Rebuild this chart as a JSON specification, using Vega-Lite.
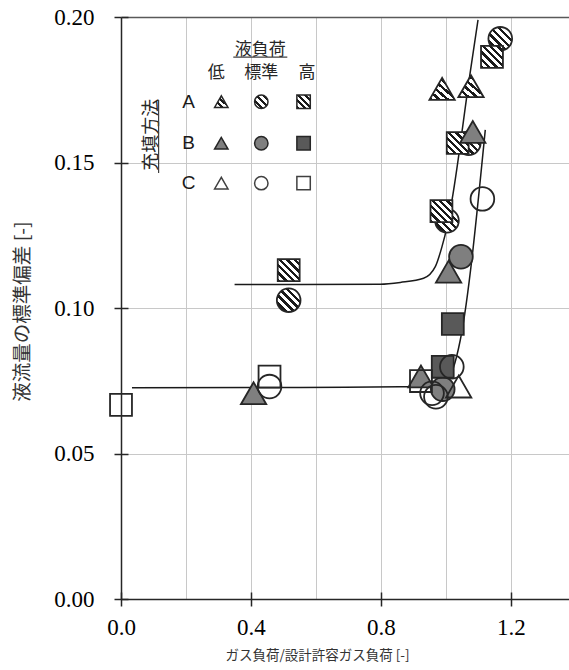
{
"$schema": "https://vega.github.io/schema/vega-lite/v6.json",
"width": 448,
"height": 582,
"autosize": {"type": "none"},
"padding": {"left": 121, "top": 17, "right": 0, "bottom": 71},
"background": "white",
"config": {"view": {"stroke": null}},
"datasets": {
"points": [
{"method": "A", "liquid": "低", "load": 0.988, "sd": 0.1753},
{"method": "A", "liquid": "低", "load": 1.077, "sd": 0.1762},
{"method": "A", "liquid": "標準", "load": 0.516, "sd": 0.1027},
{"method": "A", "liquid": "標準", "load": 1.003, "sd": 0.130},
{"method": "A", "liquid": "標準", "load": 1.070, "sd": 0.1566},
{"method": "A", "liquid": "標準", "load": 1.167, "sd": 0.1925},
{"method": "A", "liquid": "高", "load": 0.516, "sd": 0.113},
{"method": "A", "liquid": "高", "load": 0.986, "sd": 0.1333},
{"method": "A", "liquid": "高", "load": 1.036, "sd": 0.1567},
{"method": "A", "liquid": "高", "load": 1.1415, "sd": 0.1863},
{"method": "B", "liquid": "低", "load": 0.408, "sd": 0.0707},
{"method": "B", "liquid": "低", "load": 0.923, "sd": 0.0765},
{"method": "B", "liquid": "低", "load": 1.008, "sd": 0.1125},
{"method": "B", "liquid": "低", "load": 1.0825, "sd": 0.1605},
{"method": "B", "liquid": "標準", "load": 1.046, "sd": 0.1176},
{"method": "B", "liquid": "標準", "load": 0.990, "sd": 0.0721},
{"method": "B", "liquid": "高", "load": 1.021, "sd": 0.0945},
{"method": "B", "liquid": "高", "load": 0.990, "sd": 0.0798},
{"method": "C", "liquid": "低", "load": 1.039, "sd": 0.073},
{"method": "C", "liquid": "標準", "load": 0.457, "sd": 0.073},
{"method": "C", "liquid": "標準", "load": 0.957, "sd": 0.0707},
{"method": "C", "liquid": "標準", "load": 0.969, "sd": 0.0695},
{"method": "C", "liquid": "標準", "load": 1.018, "sd": 0.0798},
{"method": "C", "liquid": "標準", "load": 1.112, "sd": 0.1375},
{"method": "C", "liquid": "高", "load": 0.0, "sd": 0.0667},
{"method": "C", "liquid": "高", "load": 0.457, "sd": 0.0764},
{"method": "C", "liquid": "高", "load": 0.923, "sd": 0.0749}
],
"curves": [
{"curve": "upper", "load": 0.3495, "sd": 0.1081},
{"curve": "upper", "load": 0.5517, "sd": 0.1081},
{"curve": "upper", "load": 0.7979, "sd": 0.1082},
{"curve": "upper", "load": 0.8594, "sd": 0.1088},
{"curve": "upper", "load": 0.9311, "sd": 0.1102},
{"curve": "upper", "load": 0.9671, "sd": 0.1142},
{"curve": "upper", "load": 0.9877, "sd": 0.1211},
{"curve": "upper", "load": 1.0031, "sd": 0.1279},
{"curve": "upper", "load": 1.0185, "sd": 0.1371},
{"curve": "upper", "load": 1.0726, "sd": 0.1795},
{"curve": "upper", "load": 1.0985, "sd": 0.199},
{"curve": "lower", "load": 0.0338, "sd": 0.0726},
{"curve": "lower", "load": 0.5517, "sd": 0.0727},
{"curve": "lower", "load": 0.8594, "sd": 0.0729},
{"curve": "lower", "load": 0.9363, "sd": 0.0731},
{"curve": "lower", "load": 0.9825, "sd": 0.074},
{"curve": "lower", "load": 1.0071, "sd": 0.0759},
{"curve": "lower", "load": 1.0225, "sd": 0.0794},
{"curve": "lower", "load": 1.044, "sd": 0.089},
{"curve": "lower", "load": 1.1209, "sd": 0.1612}
],
"legendMarks": [
{"method": "A", "liquid": "低", "load": 0.3086, "sd": 0.1709},
{"method": "A", "liquid": "標準", "load": 0.4317, "sd": 0.1709},
{"method": "A", "liquid": "高", "load": 0.5618, "sd": 0.1709},
{"method": "B", "liquid": "低", "load": 0.3086, "sd": 0.1566},
{"method": "B", "liquid": "標準", "load": 0.4317, "sd": 0.1566},
{"method": "B", "liquid": "高", "load": 0.5618, "sd": 0.1566},
{"method": "C", "liquid": "低", "load": 0.3086, "sd": 0.1429},
{"method": "C", "liquid": "標準", "load": 0.4317, "sd": 0.1429},
{"method": "C", "liquid": "高", "load": 0.5618, "sd": 0.1429}
],
"legendHeads": [
{"label": "液負荷", "load": 0.4286, "sd": 0.1887},
{"label": "低", "load": 0.2932, "sd": 0.1807},
{"label": "標準", "load": 0.4317, "sd": 0.1807},
{"label": "高", "load": 0.5723, "sd": 0.1807}
],
"legendRows": [
{"label": "A", "load": 0.208, "sd": 0.1709},
{"label": "B", "load": 0.208, "sd": 0.1566},
{"label": "C", "load": 0.208, "sd": 0.1429}
],
"legendSide": [
{"label": "充填方法", "load": 0.0954, "sd": 0.1595}
],
"legendLines": [
{"load": 0.3455, "load2": 0.5117, "sd": 0.1862, "sd2": 0.1862},
{"load": 0.1157, "load2": 0.1157, "sd": 0.1464, "sd2": 0.1715}
]
},
"resolve": {"axis": {"x": "independent", "y": "independent"}},
"layer": [
{
"data": {"name": "curves"},
"mark": {"type": "line", "stroke": "#1a1a1a", "strokeWidth": 1.5, "interpolate": "monotone"},
"encoding": {
"x": {"field": "load", "type": "quantitative", "scale": {"domain": [0, 1.3785], "nice": false, "zero": false},
"axis": {"title": "ガス負荷/設計許容ガス負荷 [-]", "orient": "bottom", "values": [0, 0.2, 0.4, 0.6, 0.8, 1.0, 1.2],
"labelExpr": "(datum.value == 0 || datum.value == 0.4 || datum.value == 0.8 || datum.value == 1.2) ? format(datum.value, '.1f') : ''",
"grid": true, "gridColor": "#c8c8c8", "gridWidth": 1,
"tickColor": {"condition": {"test": "datum.value == 0 || datum.value == 0.4 || datum.value == 0.8 || datum.value == 1.2", "value": "#262626"}, "value": "transparent"},
"tickSize": 7, "tickWidth": 1.5, "domainColor": "#262626", "domainWidth": 1.5,
"labelFont": "Liberation Serif", "labelFontSize": 23, "labelColor": "#000000", "labelPadding": 10, "labelFlush": false, "labelOverlap": false, "labelBound": false,
"titleFont": "Noto Sans CJK JP", "titleFontSize": 13.5, "titleFontWeight": "normal", "titleColor": "#333333",
"titleX": 196, "titleY": 56, "titleAlign": "center", "titleBaseline": "middle"}},
"y": {"field": "sd", "type": "quantitative", "scale": {"domain": [0, 0.2], "nice": false},
"axis": {"title": "液流量の標準偏差 [-]", "orient": "left", "values": [0, 0.05, 0.1, 0.15, 0.2], "format": ".2f",
"grid": true,
"gridColor": {"condition": {"test": "datum.value > 0.19", "value": "#595959"}, "value": "#c8c8c8"},
"gridWidth": {"condition": {"test": "datum.value > 0.19", "value": 1.5}, "value": 1},
"tickColor": "#262626", "tickSize": 7, "tickWidth": 1.5, "domainColor": "#262626", "domainWidth": 1.5,
"labelFont": "Liberation Serif", "labelFontSize": 23, "labelColor": "#000000", "labelPadding": 20, "labelOverlap": false, "labelBound": false, "labelFlush": false,
"titleFont": "Noto Sans CJK JP", "titleFontSize": 19.5, "titleFontWeight": "normal", "titleColor": "#333333",
"titleAngle": 270, "titleX": -99, "titleY": 294, "titleAlign": "center", "titleBaseline": "middle"}},
"detail": {"field": "curve", "type": "nominal"}
}
},
{
"data": {"name": "points"},
"transform": [{"filter": "datum.method == 'A'"}],
"mark": {"type": "point", "filled": true, "opacity": 1, "stroke": "#262626", "strokeWidth": 1.8,
"fill": {"gradient": "linear", "x1": 0, "y1": 1, "x2": 1, "y2": 0, "stops": [
{"offset": 0, "color": "#1a1a1a"}, {"offset": 0.075, "color": "#1a1a1a"}, {"offset": 0.075, "color": "#ffffff"}, {"offset": 0.1667, "color": "#ffffff"},
{"offset": 0.1667, "color": "#1a1a1a"}, {"offset": 0.2417, "color": "#1a1a1a"}, {"offset": 0.2417, "color": "#ffffff"}, {"offset": 0.3333, "color": "#ffffff"},
{"offset": 0.3333, "color": "#1a1a1a"}, {"offset": 0.4083, "color": "#1a1a1a"}, {"offset": 0.4083, "color": "#ffffff"}, {"offset": 0.5, "color": "#ffffff"},
{"offset": 0.5, "color": "#1a1a1a"}, {"offset": 0.575, "color": "#1a1a1a"}, {"offset": 0.575, "color": "#ffffff"}, {"offset": 0.6667, "color": "#ffffff"},
{"offset": 0.6667, "color": "#1a1a1a"}, {"offset": 0.7417, "color": "#1a1a1a"}, {"offset": 0.7417, "color": "#ffffff"}, {"offset": 0.8333, "color": "#ffffff"},
{"offset": 0.8333, "color": "#1a1a1a"}, {"offset": 0.9083, "color": "#1a1a1a"}, {"offset": 0.9083, "color": "#ffffff"}, {"offset": 1, "color": "#ffffff"}]}},
"encoding": {
"x": {"field": "load", "type": "quantitative", "scale": {"domain": [0, 1.3785], "nice": false, "zero": false},
"axis": {"orient": "bottom", "title": null, "values": [0, 0.4, 0.8, 1.2], "labels": false, "domain": false, "grid": false, "tickSize": -7, "tickColor": "#262626", "tickWidth": 1.5}},
"y": {"field": "sd", "type": "quantitative", "scale": {"domain": [0, 0.2], "nice": false},
"axis": {"orient": "left", "title": null, "values": [0, 0.05, 0.1, 0.15, 0.2], "labels": false, "domain": false, "grid": false, "tickSize": -7, "tickColor": "#262626", "tickWidth": 1.5}},
"shape": {"field": "liquid", "type": "nominal", "scale": {"domain": ["低", "標準", "高"], "range": ["triangle-up", "circle", "square"]}, "legend": null},
"size": {"field": "liquid", "type": "ordinal", "scale": {"domain": ["低", "標準", "高"], "range": [640, 480, 460]}, "legend": null}
}
},
{
"data": {"name": "points"},
"transform": [{"filter": "datum.method == 'B'"}],
"mark": {"type": "point", "filled": true, "opacity": 1, "stroke": "#262626", "strokeWidth": 1.8},
"encoding": {
"x": {"field": "load", "type": "quantitative", "scale": {"domain": [0, 1.3785], "nice": false, "zero": false}, "axis": null},
"y": {"field": "sd", "type": "quantitative", "scale": {"domain": [0, 0.2], "nice": false}, "axis": null},
"shape": {"field": "liquid", "type": "nominal", "scale": {"domain": ["低", "標準", "高"], "range": ["triangle-up", "circle", "square"]}, "legend": null},
"size": {"field": "liquid", "type": "ordinal", "scale": {"domain": ["低", "標準", "高"], "range": [640, 480, 460]}, "legend": null},
"fill": {"field": "liquid", "type": "nominal", "scale": {"domain": ["低", "標準", "高"], "range": ["#7f7f7f", "#7f7f7f", "#595959"]}, "legend": null}
}
},
{
"data": {"name": "points"},
"transform": [{"filter": "datum.method == 'C'"}],
"mark": {"type": "point", "filled": false, "opacity": 1, "stroke": "#262626", "strokeWidth": 1.8},
"encoding": {
"x": {"field": "load", "type": "quantitative", "scale": {"domain": [0, 1.3785], "nice": false, "zero": false}, "axis": null},
"y": {"field": "sd", "type": "quantitative", "scale": {"domain": [0, 0.2], "nice": false}, "axis": null},
"shape": {"field": "liquid", "type": "nominal", "scale": {"domain": ["低", "標準", "高"], "range": ["triangle-up", "circle", "square"]}, "legend": null},
"size": {"field": "liquid", "type": "ordinal", "scale": {"domain": ["低", "標準", "高"], "range": [640, 480, 460]}, "legend": null}
}
},
{
"data": {"name": "legendMarks"},
"transform": [{"filter": "datum.method == 'A'"}],
"mark": {"type": "point", "filled": true, "opacity": 1, "size": 180, "stroke": "#262626", "strokeWidth": 1.5,
"fill": {"gradient": "linear", "x1": 0, "y1": 1, "x2": 1, "y2": 0, "stops": [
{"offset": 0, "color": "#1a1a1a"}, {"offset": 0.1125, "color": "#1a1a1a"}, {"offset": 0.1125, "color": "#ffffff"}, {"offset": 0.25, "color": "#ffffff"},
{"offset": 0.25, "color": "#1a1a1a"}, {"offset": 0.3625, "color": "#1a1a1a"}, {"offset": 0.3625, "color": "#ffffff"}, {"offset": 0.5, "color": "#ffffff"},
{"offset": 0.5, "color": "#1a1a1a"}, {"offset": 0.6125, "color": "#1a1a1a"}, {"offset": 0.6125, "color": "#ffffff"}, {"offset": 0.75, "color": "#ffffff"},
{"offset": 0.75, "color": "#1a1a1a"}, {"offset": 0.8625, "color": "#1a1a1a"}, {"offset": 0.8625, "color": "#ffffff"}, {"offset": 1, "color": "#ffffff"}]}},
"encoding": {
"x": {"field": "load", "type": "quantitative", "scale": {"domain": [0, 1.3785], "nice": false, "zero": false}, "axis": null},
"y": {"field": "sd", "type": "quantitative", "scale": {"domain": [0, 0.2], "nice": false}, "axis": null},
"shape": {"field": "liquid", "type": "nominal", "scale": {"domain": ["低", "標準", "高"], "range": ["triangle-up", "circle", "square"]}, "legend": null}
}
},
{
"data": {"name": "legendMarks"},
"transform": [{"filter": "datum.method == 'B'"}],
"mark": {"type": "point", "filled": true, "opacity": 1, "size": 180, "stroke": "#262626", "strokeWidth": 1.5},
"encoding": {
"x": {"field": "load", "type": "quantitative", "scale": {"domain": [0, 1.3785], "nice": false, "zero": false}, "axis": null},
"y": {"field": "sd", "type": "quantitative", "scale": {"domain": [0, 0.2], "nice": false}, "axis": null},
"shape": {"field": "liquid", "type": "nominal", "scale": {"domain": ["低", "標準", "高"], "range": ["triangle-up", "circle", "square"]}, "legend": null},
"fill": {"field": "liquid", "type": "nominal", "scale": {"domain": ["低", "標準", "高"], "range": ["#7f7f7f", "#7f7f7f", "#595959"]}, "legend": null}
}
},
{
"data": {"name": "legendMarks"},
"transform": [{"filter": "datum.method == 'C'"}],
"mark": {"type": "point", "filled": false, "opacity": 1, "size": 180, "stroke": "#404040", "strokeWidth": 1.5},
"encoding": {
"x": {"field": "load", "type": "quantitative", "scale": {"domain": [0, 1.3785], "nice": false, "zero": false}, "axis": null},
"y": {"field": "sd", "type": "quantitative", "scale": {"domain": [0, 0.2], "nice": false}, "axis": null},
"shape": {"field": "liquid", "type": "nominal", "scale": {"domain": ["低", "標準", "高"], "range": ["triangle-up", "circle", "square"]}, "legend": null}
}
},
{
"data": {"name": "legendHeads"},
"mark": {"type": "text", "font": "Noto Sans CJK JP", "fontSize": 17, "color": "#262626", "align": "center", "baseline": "middle"},
"encoding": {
"x": {"field": "load", "type": "quantitative", "scale": {"domain": [0, 1.3785], "nice": false, "zero": false}, "axis": null},
"y": {"field": "sd", "type": "quantitative", "scale": {"domain": [0, 0.2], "nice": false}, "axis": null},
"text": {"field": "label", "type": "nominal"}
}
},
{
"data": {"name": "legendRows"},
"mark": {"type": "text", "font": "Liberation Sans", "fontSize": 19, "color": "#1a1a1a", "align": "center", "baseline": "middle"},
"encoding": {
"x": {"field": "load", "type": "quantitative", "scale": {"domain": [0, 1.3785], "nice": false, "zero": false}, "axis": null},
"y": {"field": "sd", "type": "quantitative", "scale": {"domain": [0, 0.2], "nice": false}, "axis": null},
"text": {"field": "label", "type": "nominal"}
}
},
{
"data": {"name": "legendSide"},
"mark": {"type": "text", "font": "Noto Sans CJK JP", "fontSize": 18, "color": "#262626", "align": "center", "baseline": "middle", "angle": 270},
"encoding": {
"x": {"field": "load", "type": "quantitative", "scale": {"domain": [0, 1.3785], "nice": false, "zero": false}, "axis": null},
"y": {"field": "sd", "type": "quantitative", "scale": {"domain": [0, 0.2], "nice": false}, "axis": null},
"text": {"field": "label", "type": "nominal"}
}
},
{
"data": {"name": "legendLines"},
"mark": {"type": "rule", "stroke": "#404040", "strokeWidth": 1.2},
"encoding": {
"x": {"field": "load", "type": "quantitative", "scale": {"domain": [0, 1.3785], "nice": false, "zero": false}, "axis": null},
"x2": {"field": "load2"},
"y": {"field": "sd", "type": "quantitative", "scale": {"domain": [0, 0.2], "nice": false}, "axis": null},
"y2": {"field": "sd2"}
}
}
]
}
